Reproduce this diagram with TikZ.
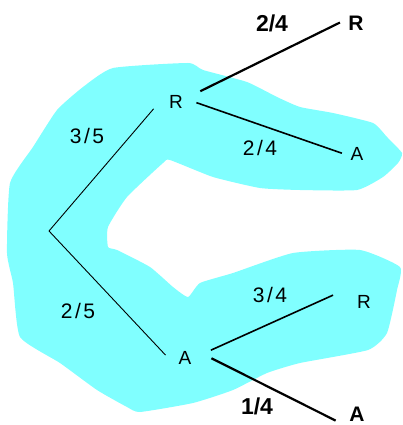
\documentclass[tikz,border=0pt]{standalone}
\usepackage{fontspec}
\setmainfont{Liberation Sans}
\definecolor{blobcyan}{RGB}{128,255,255}
\begin{document}
\begin{tikzpicture}[x=1pt,y=-1pt,
  lbl/.style={font=\fontsize{19}{22}\selectfont,inner sep=2pt},
  blbl/.style={lbl,font=\fontsize{21}{24}\selectfont\bfseries},
  frac/.style={lbl,font=\fontsize{21}{24}\selectfont\addfontfeature{LetterSpace=12}},
  bfrac/.style={lbl,font=\fontsize{23}{26}\selectfont\bfseries},
  stem/.style={line width=0.9pt},
  twig/.style={line width=1.6pt},
  outer/.style={line width=2.2pt}]
  \useasboundingbox (0,0) rectangle (402,425);
  % shaded region round the tree
  \fill[blobcyan] plot[smooth cycle,tension=0.3] coordinates {
    (113,68) (188,63) (203,70) (247,82) (277,97) (300,107) (333,113)
    (373,123) (387,137) (402,153) (398,163) (383,177) (357,190) (300,190)
    (260,188) (213,177) (170,160) (163,163) (127,197) (108,227) (108,247)
    (117,250) (150,267) (173,287) (188,297) (200,283) (233,273) (293,253)
    (360,250) (400,267) (397,290) (387,333) (368,350) (300,363) (267,373)
    (233,390) (193,403) (140,412) (127,407) (97,390) (60,363) (20,337)
    (13,283) (7,253) (10,183) (33,147) (57,110) (83,87)};
  % outcomes
  \coordinate (root) at (49,231);
  \node[lbl] (R) at (176,102) {R};
  \node[lbl] (A) at (185,358) {A};
  \node[blbl] (RR) at (356,23) {R};
  \node[lbl] (RA) at (357,154) {A};
  \node[lbl] (AR) at (364,302) {R};
  \node[blbl] (AA) at (357,414) {A};
  % branches
  \draw[stem,shorten >=20.5pt] (root) -- (R.north west);
  \draw[stem,shorten >=16pt] (root) -- (A.south west);
  \draw[outer,shorten <=17pt,shorten >=7pt] (R.20) -- (RR.160);
  \draw[twig,shorten <=12pt,shorten >=7pt] (R.20) -- (RA.190);
  \draw[twig,shorten <=19pt,shorten >=24pt] (A.east) -- ([yshift=8pt]AR.north west);
  \draw[outer,shorten <=20pt,shorten >=13pt] (A.north east) -- ([yshift=-3pt]AA.south west);
  % probabilities
  \node[frac] (pR) at (87,136) {3/5};
  \node[frac] (pA) at (78,311) {2/5};
  \node[bfrac] (pRR) at (272,23) {2/4};
  \node[frac] (pRA) at (260,148) {2/4};
  \node[frac] (pAR) at (270,295) {3/4};
  \node[bfrac] (pAA) at (257,406) {1/4};
\end{tikzpicture}
\end{document}
